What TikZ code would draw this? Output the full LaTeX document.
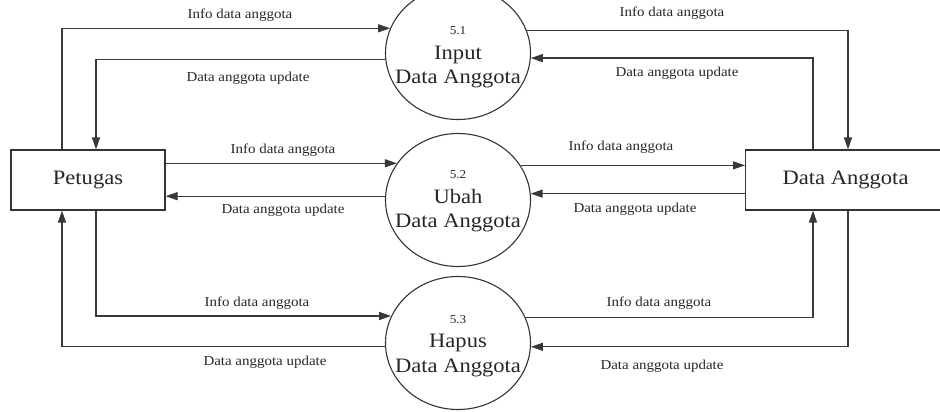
\documentclass[tikz,border=0pt]{standalone}
\usepackage{fontspec}
\setmainfont{Liberation Serif}[FakeStretch=1.1]
\usetikzlibrary{arrows.meta,shapes.geometric}
\begin{document}
\begin{tikzpicture}[x=1pt,y=-1pt,
  flow/.style={draw=black!78,line width=1.2pt,-{Triangle[length=12pt,width=8pt]}},
  proc/.style={ellipse,draw=black!80,line width=1.1pt,minimum width=145pt,minimum height=133pt,inner sep=0pt},
  ent/.style={rectangle,draw=black!80,line width=1.2pt,minimum height=60pt,inner sep=0pt,font=\fontsize{20.5}{24}\selectfont,text=black!85},
  ptext/.style={align=center,inner sep=0pt,text=black!85,font=\fontsize{20.5}{24.5}\selectfont},
  lbl/.style={inner sep=1pt,text=black!85,font=\fontsize{13.6}{16}\selectfont}]
\useasboundingbox (0,0) rectangle (940,412);
% entities
\node[ent,minimum width=154pt] (P) at (88,180) {Petugas};
\node[ent,minimum width=200pt,anchor=west] (D) at (745,180) {Data Anggota};
% processes
\node[proc] (c1) at (458,53) {};
\node[proc] (c2) at (458,200) {};
\node[proc] (c3) at (458,343) {};
\node[ptext] (t1) at ([yshift=-4.5pt]c1.center) {{\fontsize{12}{14}\selectfont 5.1}\\Input\\Data Anggota};
\node[ptext] (t2) at ([yshift=-1.5pt]c2.center) {{\fontsize{12}{14}\selectfont 5.2}\\Ubah\\Data Anggota};
\node[ptext] (t3) at ([yshift=-3pt]c3.center) {{\fontsize{12}{14}\selectfont 5.3}\\Hapus\\Data Anggota};
% vertical rails
\coordinate (xa) at (62,0);
\coordinate (xb) at (96,0);
\coordinate (xc) at (813,0);
\coordinate (xd) at (848,0);
% top flows
\draw[flow] (P.north -| xa) |- (c1.160.4);
\draw[flow] (c1.185) -| (P.north -| xb);
\draw[flow] (c1.18.7) -| (D.north -| xd);
\draw[flow] (D.north -| xc) |- (c1.-4);
% middle flows
\draw[flow] (c2.149.5 -| P.east) -- (c2.149.5);
\draw[flow] (c2.177) -- (c2.177 -| P.east);
\draw[flow] (c2.29.6) -- (c2.29.6 -| D.west);
\draw[flow] (c2.5.5 -| D.west) -- (c2.5.5);
% bottom flows
\draw[flow] (P.south -| xb) |- (c3.158.7);
\draw[flow] (c3.183) -| (P.south -| xa);
\draw[flow] (c3.21.3) -| (D.south -| xc);
\draw[flow] (D.south -| xd) |- (c3.-3);
% labels
\node[lbl] (l1) at (240,15) {Info data anggota};
\node[lbl] (l2) at (248,78) {Data anggota update};
\node[lbl] (l3) at (672,13) {Info data anggota};
\node[lbl] (l4) at (677,73) {Data anggota update};
\node[lbl] (l5) at (283,150) {Info data anggota};
\node[lbl] (l6) at (283,210) {Data anggota update};
\node[lbl] (l7) at (621,147) {Info data anggota};
\node[lbl] (l8) at (635,209) {Data anggota update};
\node[lbl] (l9) at (257,303) {Info data anggota};
\node[lbl] (l10) at (265,362) {Data anggota update};
\node[lbl] (l11) at (659,303) {Info data anggota};
\node[lbl] (l12) at (662,366) {Data anggota update};
\end{tikzpicture}
\end{document}
